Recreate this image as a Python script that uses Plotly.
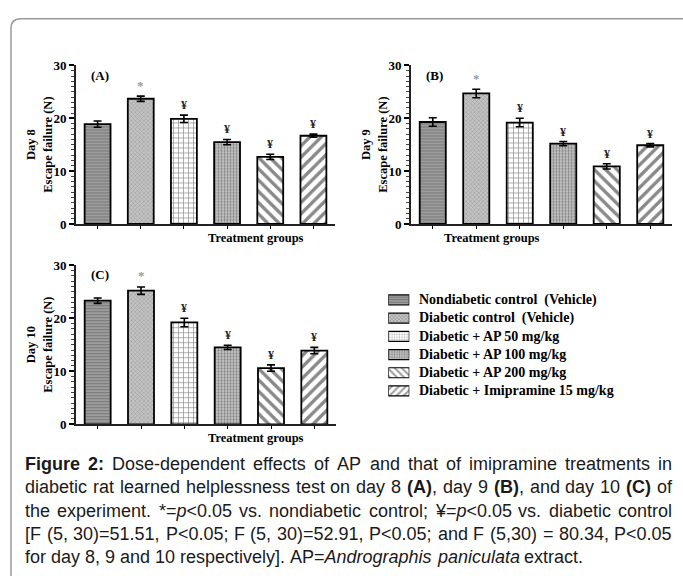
import re
import plotly.graph_objects as go

W, H = 683, 584

groups = ["Nondiabetic control  (Vehicle)", "Diabetic control  (Vehicle)",
          "Diabetic + AP 50 mg/kg", "Diabetic + AP 100 mg/kg",
          "Diabetic + AP 200 mg/kg", "Diabetic + Imipramine 15 mg/kg"]

day8_mean = [18.9, 23.7, 19.9, 15.5, 12.7, 16.7]
day8_err = [0.6, 0.5, 0.7, 0.5, 0.5, 0.3]
day9_mean = [19.3, 24.7, 19.2, 15.2, 10.9, 14.9]
day9_err = [0.8, 0.8, 0.8, 0.4, 0.5, 0.3]
day10_mean = [23.3, 25.2, 19.2, 14.5, 10.6, 13.9]
day10_err = [0.5, 0.7, 0.8, 0.4, 0.6, 0.6]

# significance marks: "*" vs nondiabetic, "¥" vs diabetic control
sig_marks = ["", "*", "¥", "¥", "¥", "¥"]

panels = [
    ("(A)", "Day 8", day8_mean, day8_err),
    ("(B)", "Day 9", day9_mean, day9_err),
    ("(C)", "Day 10", day10_mean, day10_err),
]

patterns = [
    dict(shape="-", bgcolor="#9c9c9c", fgcolor="#555555", size=3, solidity=0.35),
    dict(shape="x", bgcolor="#c4c4c4", fgcolor="#666666", size=3, solidity=0.3),
    dict(shape="+", bgcolor="white", fgcolor="#111111", size=5, solidity=0.25),
    dict(shape=".", bgcolor="#cccccc", fgcolor="#333333", size=3, solidity=0.45),
    dict(shape="\\", bgcolor="white", fgcolor="#111111", size=8, solidity=0.42),
    dict(shape="/", bgcolor="white", fgcolor="#111111", size=8, solidity=0.42),
]

def px_x(p):
    return p / W

def px_y(p):
    return 1 - p / H

domains = [
    ([px_x(76), px_x(335)], [px_y(222.7), px_y(60)]),
    ([px_x(411), px_x(672)], [px_y(222.7), px_y(60)]),
    ([px_x(76), px_x(336)], [px_y(428.3), px_y(265)]),
]

SERIF = "Liberation Serif"
fig = go.Figure()

for pi, (lab, day, means, errs) in enumerate(panels):
    sfx = "" if pi == 0 else str(pi + 1)
    for gi, g in enumerate(groups):
        fig.add_trace(go.Bar(
            x=[g], y=[means[gi]], width=0.6, name=g, showlegend=False,
            marker=dict(color=patterns[gi]["bgcolor"], pattern=patterns[gi],
                        line=dict(color="black", width=1.8)),
            error_y=dict(type="data", array=[errs[gi]], color="black",
                         thickness=1.6, width=4),
            xaxis="x" + sfx, yaxis="y" + sfx,
        ))
    xd, yd = domains[pi]
    fig.layout["xaxis" + sfx] = dict(
        domain=xd, anchor="y" + sfx, range=[-0.5, 5.5], type="category",
        categoryorder="array", categoryarray=groups,
        showticklabels=False, ticks="outside", ticklen=3, tickwidth=1.2,
        tickcolor="black", showline=True, linewidth=2, linecolor="#222",
        showgrid=False, zeroline=False, fixedrange=True)
    fig.layout["yaxis" + sfx] = dict(
        domain=yd, anchor="x" + sfx, range=[0, 30], tickvals=[0, 10, 20, 30],
        ticks="outside", ticklen=5, tickwidth=1.5, tickcolor="black",
        minor=dict(dtick=1, ticks="outside", ticklen=3, tickwidth=1, tickcolor="#444"),
        showline=True, linewidth=2, linecolor="#222", showgrid=False, zeroline=False,
        tickfont=dict(family=SERIF, size=13, color="black", weight="bold"))
    for gi, g in enumerate(groups):
        if sig_marks[gi]:
            star = sig_marks[gi] == "*"
            fig.add_annotation(
                x=g, y=means[gi] + errs[gi], xref="x" + sfx, yref="y" + sfx,
                text=sig_marks[gi], showarrow=False, yanchor="middle",
                yshift=11 if star else 10,
                font=dict(family=SERIF, size=13 if star else 12,
                          color="#9a9a9a" if star else "#222222", weight="bold"))
    x0 = xd[0] * W
    ytop = (1 - yd[1]) * H
    fig.add_annotation(x=px_x(x0 + 13), y=px_y(ytop + 10), xref="paper", yref="paper",
                       text=lab, showarrow=False, xanchor="left", yanchor="middle",
                       font=dict(family=SERIF, size=13, color="black", weight="bold"))
    ybot = (1 - yd[0]) * H
    fig.add_annotation(x=(xd[0] + xd[1]) / 2, y=px_y(ybot + 14), xref="paper", yref="paper",
                       text="Treatment groups", showarrow=False, yanchor="middle",
                       font=dict(family=SERIF, size=12.5, color="black", weight="bold"))
    fig.add_annotation(x=px_x(x0 - 37), y=(yd[0] + yd[1]) / 2, xref="paper", yref="paper",
                       text=day + "<br>Escape failure (N)", showarrow=False,
                       textangle=-90, xanchor="center", yanchor="middle",
                       font=dict(family=SERIF, size=12.5, color="black", weight="bold"))

# ---- legend (patterned patches on their own small axis + text labels)
leg_rows = list(range(len(groups)))
fig.add_trace(go.Bar(
    y=leg_rows, x=[1] * len(groups), base=0, orientation="h", width=0.55,
    showlegend=False, hoverinfo="skip",
    marker=dict(color=[p["bgcolor"] for p in patterns],
                pattern=dict(shape=[p["shape"] for p in patterns],
                             bgcolor=[p["bgcolor"] for p in patterns],
                             fgcolor=[p["fgcolor"] for p in patterns],
                             size=[2.5 if p["size"] < 6 else 5 for p in patterns],
                             solidity=[p["solidity"] for p in patterns]),
                line=dict(color="black", width=1.2)),
    xaxis="x4", yaxis="y4"))
leg_top, leg_step = 300.7, 18.67
fig.layout["xaxis4"] = dict(domain=[px_x(388.3), px_x(409.3)], anchor="y4", range=[0, 1],
                            visible=False, fixedrange=True)
fig.layout["yaxis4"] = dict(domain=[px_y(leg_top + 5.5 * leg_step), px_y(leg_top - 0.5 * leg_step)],
                            anchor="x4", range=[5.5, -0.5], visible=False, fixedrange=True)
for i, g in enumerate(groups):
    fig.add_annotation(x=px_x(416.7), y=i, xref="paper", yref="y4", text=g,
                       showarrow=False, xanchor="left", yanchor="middle",
                       font=dict(family=SERIF, size=14, color="black", weight="bold"))

# ---- caption, justified using Arial / Liberation Sans metrics
REG = {' ': 278, '!': 278, '(': 333, ')': 333, '*': 389, '+': 584, ',': 278, '-': 333,
       '.': 278, '/': 278, ':': 278, ';': 278, '<': 584, '=': 584, '>': 584, '[': 278,
       ']': 278, '¥': 556,
       'A': 667, 'B': 667, 'C': 722, 'D': 722, 'E': 667, 'F': 611, 'G': 778, 'H': 722,
       'I': 278, 'J': 500, 'K': 667, 'L': 556, 'M': 833, 'N': 722, 'O': 778, 'P': 667,
       'Q': 778, 'R': 722, 'S': 667, 'T': 611, 'U': 722, 'V': 667, 'W': 944, 'X': 667,
       'Y': 667, 'Z': 611,
       'a': 556, 'b': 556, 'c': 500, 'd': 556, 'e': 556, 'f': 278, 'g': 556, 'h': 556,
       'i': 222, 'j': 222, 'k': 500, 'l': 222, 'm': 833, 'n': 556, 'o': 556, 'p': 556,
       'q': 556, 'r': 333, 's': 500, 't': 278, 'u': 556, 'v': 500, 'w': 722, 'x': 500,
       'y': 500, 'z': 500}
BOLD = {'F': 611, 'i': 278, 'g': 611, 'u': 611, 'r': 389, 'e': 556, '2': 556, ':': 333,
        '(': 333, ')': 333, 'A': 722, 'B': 722, 'C': 722, ' ': 278}

def char_w(c, bold, size):
    if bold:
        w = BOLD.get(c, 600)
    elif c.isdigit():
        w = 556
    else:
        w = REG.get(c, 556)
    return w * size / 1000

def tokenize(line):
    out = []
    b = i = False
    for tok in re.split(r"(<\/?[bi]>|&lt;)", line):
        if tok == "<b>": b = True
        elif tok == "</b>": b = False
        elif tok == "<i>": i = True
        elif tok == "</i>": i = False
        elif tok == "&lt;": out.append(("<", b, i))
        else:
            out.extend((c, b, i) for c in tok)
    return out

def word_html(chars):
    s, cur = "", None
    for c, b, i in chars:
        if (b, i) != cur:
            if cur is not None:
                s += ("</i>" if cur[1] else "") + ("</b>" if cur[0] else "")
            s += ("<b>" if b else "") + ("<i>" if i else "")
            cur = (b, i)
        s += "&lt;" if c == "<" else c
    if cur is not None:
        s += ("</i>" if cur[1] else "") + ("</b>" if cur[0] else "")
    return s

caption_lines = [
    "<b>Figure 2:</b> Dose-dependent effects of AP and that of imipramine treatments in",
    "diabetic rat learned helplessness test on day 8 <b>(A)</b>, day 9 <b>(B)</b>, and day 10 <b>(C)</b> of",
    "the experiment. *=<i>p</i>&lt;0.05 vs. nondiabetic control; ¥=<i>p</i>&lt;0.05 vs. diabetic control",
    "[F (5, 30)=51.51, P&lt;0.05; F (5, 30)=52.91, P&lt;0.05; and F (5,30) = 80.34, P&lt;0.05",
    "for day 8, 9 and 10 respectively]. AP=<i>Andrographis paniculata</i> extract.",
]
caption_y = [469, 493, 517, 541, 565]
CAP_SIZE = 18
CAP_FONT = "Liberation Sans"
CAP_L, CAP_R = 24, 671
for li, (t, yy) in enumerate(zip(caption_lines, caption_y)):
    chars = tokenize(t)
    words, cur = [], []
    for ch in chars:
        if ch[0] == " ":
            if cur:
                words.append(cur)
            cur = []
        else:
            cur.append(ch)
    if cur:
        words.append(cur)
    widths = [sum(char_w(c, b, CAP_SIZE) for c, b, i in w) for w in words]
    last = li == len(caption_lines) - 1
    space = 0.278 * CAP_SIZE
    gap = space if last else max(space * 0.8, (CAP_R - CAP_L - sum(widths)) / (len(words) - 1))
    x = CAP_L
    for w, wd in zip(words, widths):
        fig.add_annotation(x=px_x(x), y=px_y(yy), xref="paper", yref="paper",
                           text=word_html(w), showarrow=False, xanchor="left",
                           yanchor="middle", align="left", borderpad=0,
                           font=dict(family=CAP_FONT, size=CAP_SIZE, color="#1a1a1a"))
        x += wd + gap

# frame with rounded top-left corner
fig.add_shape(type="path", xref="paper", yref="paper",
              path=(f"M {px_x(683)},{px_y(12)} L {px_x(21)},{px_y(12)} "
                    f"Q {px_x(11)},{px_y(12)} {px_x(11)},{px_y(22)} L {px_x(11)},{px_y(584)}"),
              line=dict(color="#9a9a9a", width=1.5))

fig.update_layout(
    width=W, height=H, margin=dict(l=0, r=0, t=0, b=0),
    paper_bgcolor="white", plot_bgcolor="white", showlegend=False,
    bargap=0.4,
)

fig.write_html("out.html")
